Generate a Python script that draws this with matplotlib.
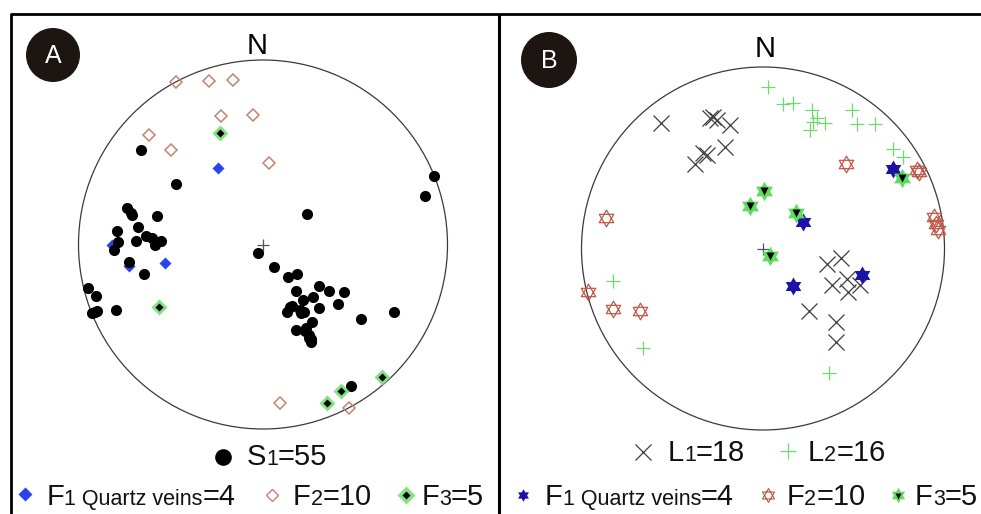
import numpy as np
import matplotlib
matplotlib.use('Agg')
import matplotlib.pyplot as plt
from matplotlib.path import Path
from matplotlib.patches import Circle
from matplotlib import transforms

plt.rcParams['font.family'] = ['Liberation Sans', 'DejaVu Sans']

# --- data: points in net coordinates (unit circle, x = east, y = north) ---
# panel A: poles
s1_a = np.array([
    (-0.661, 0.512), (-0.472, 0.328), (-0.737, 0.198), (-0.710, 0.160), (-0.575, 0.154),
    (-0.678, 0.095), (-0.791, 0.073), (-0.786, 0.014), (-0.688, 0.019), (-0.634, 0.046),
    (-0.602, 0.035), (-0.553, 0.019), (-0.585, -0.003), (-0.808, -0.030), (-0.726, -0.095),
    (-0.645, -0.160), (-0.949, -0.236), (-0.905, -0.279), (-0.927, -0.371), (-0.911, -0.366),
    (-0.797, -0.355), (-0.715, 0.171), (-0.900, -0.360), (-0.027, -0.046), (0.060, -0.122),
    (0.136, -0.176), (0.184, -0.160), (0.179, -0.252), (0.304, -0.225), (0.358, -0.252),
    (0.439, -0.257), (0.217, -0.301), (0.271, -0.285), (0.407, -0.322), (0.146, -0.339),
    (0.130, -0.366), (0.206, -0.371), (0.222, -0.366), (0.304, -0.344), (0.266, -0.420),
    (0.179, -0.463), (0.228, -0.469), (0.249, -0.491), (0.260, -0.528), (0.249, -0.507),
    (0.531, -0.404), (0.710, -0.366), (0.477, -0.767), (0.927, 0.371), (0.878, 0.263),
    (0.238, 0.165), (0.201, -0.355), (0.233, -0.453), (0.157, -0.333), (0.260, -0.512),
])
f1_a = np.array([(-0.244, 0.415), (-0.531, -0.100), (-0.818, -0.003), (-0.726, -0.117)])
f2_a = np.array([
    (-0.472, 0.881), (-0.293, 0.886), (-0.163, 0.892), (-0.228, 0.696), (-0.054, 0.702),
    (-0.618, 0.593), (-0.499, 0.512), (0.033, 0.444), (0.092, -0.859), (0.466, -0.886),
])
f3_a = np.array([(-0.233, 0.604), (-0.564, -0.339), (0.347, -0.859), (0.423, -0.794), (0.645, -0.718)])

# panel B: lineations / fold axes
l1_b = np.array([
    (-0.562, 0.691), (-0.292, 0.719), (-0.275, 0.725), (-0.253, 0.708), (-0.182, 0.680),
    (-0.209, 0.559), (-0.331, 0.526), (-0.309, 0.515), (-0.375, 0.466), (0.430, -0.052),
    (0.353, -0.085), (0.380, -0.201), (0.463, -0.168), (0.468, -0.240), (0.534, -0.201),
    (0.253, -0.344), (0.402, -0.405), (0.402, -0.515),
])
l2_b = np.array([
    (0.028, 0.890), (0.110, 0.796), (0.165, 0.802), (0.270, 0.763), (0.298, 0.719),
    (0.275, 0.697), (0.342, 0.691), (0.259, 0.653), (0.490, 0.763), (0.518, 0.686),
    (0.617, 0.686), (0.716, 0.548), (0.771, 0.504), (-0.826, -0.179), (-0.661, -0.548),
    (0.364, -0.686),
])
f1_b = np.array([(0.716, 0.438), (0.220, 0.146), (0.165, -0.207), (0.545, -0.146)])
f2_b = np.array([
    (-0.865, 0.168), (0.457, 0.466), (0.848, 0.433), (0.942, 0.174), (0.964, 0.102),
    (0.953, 0.135), (-0.964, -0.240), (-0.826, -0.333), (-0.678, -0.344), (0.860, 0.421),
])
f3_b = np.array([(-0.072, 0.234), (0.006, 0.317), (0.766, 0.388), (0.182, 0.196), (0.039, -0.041)])

W, H = 981, 514
fig = plt.figure(figsize=(W / 100, H / 100), dpi=100)

# overlay axes in pixel units for frame, labels and legends
ax0 = fig.add_axes([0, 0, 1, 1])
ax0.set_xlim(0, W)
ax0.set_ylim(H, 0)
ax0.axis('off')


def hexagram(outline=False):
    if outline:
        verts, codes = [], []
        for start in (90, 270):
            ang = np.deg2rad([start, start + 120, start + 240])
            pts = np.c_[np.cos(ang), np.sin(ang)]
            verts += list(pts) + [pts[0]]
            codes += [Path.MOVETO, Path.LINETO, Path.LINETO, Path.CLOSEPOLY]
        return Path(verts, codes)
    ang = np.deg2rad(np.arange(90, 450, 30))
    r = np.where(np.arange(12) % 2 == 0, 1.0, 1 / np.sqrt(3))
    pts = np.c_[r * np.cos(ang), r * np.sin(ang)]
    return Path(np.vstack([pts, pts[:1]]), closed=True)


STAR = hexagram()
STAR_OPEN = hexagram(outline=True)
LIM = 1.15


def make_net(cx, cy, R):
    half = R * LIM
    ax = fig.add_axes([(cx - half) / W, (H - cy - half) / H, 2 * half / W, 2 * half / H])
    ax.set_xlim(-LIM, LIM)
    ax.set_ylim(-LIM, LIM)
    ax.axis('off')
    ax.add_patch(Circle((0, 0), 1, fill=False, lw=0.9, ec='#3a3a3a'))
    ax.plot(0, 0, '+', ms=8, color='#555555', mew=0.9)
    return ax


def pts(ax, data, **kw):
    ax.plot(data[:, 0], data[:, 1], ls='none', clip_on=False, **kw)


def mixed_text(x, y, parts):
    r = fig.canvas.get_renderer()
    tr = ax0.transData
    for s, size in parts:
        t = ax0.text(x, y, s, fontsize=size, transform=tr, va='baseline', ha='left', color='#111111')
        t.draw(r)
        ex = t.get_window_extent(r)
        tr = transforms.offset_copy(t.get_transform(), x=ex.width, units='dots')


BIG, SMALL = 21, 15.5
C_BLUE_A = '#2a45e6'
C_TAN = '#c2836f'
C_GLOW = '#86e086'
C_NAVY = '#1c12a8'
C_RED = '#c05a4a'
C_GREEN = '#5ddc5d'
C_LGREEN = '#6fd86f'
C_GREY = '#3c3c3c'

# ---------------- panel A ----------------
axA = make_net(263, 244.5, 184.5)
pts(axA, f1_a, marker='D', ms=6, color=C_BLUE_A, mec='none')
pts(axA, s1_a, marker='o', ms=8, color='black', mec='none')
pts(axA, f2_a, marker='D', ms=6.5, mfc='none', mec=C_TAN, mew=1.1)
pts(axA, f3_a, marker='D', ms=8, color=C_GLOW, mec='none')
pts(axA, f3_a, marker='D', ms=3.6, color='black', mec='none')

# ---------------- panel B ----------------
axB = make_net(763, 248.5, 181.5)
pts(axB, l1_b, marker='x', ms=11, color=C_GREY, mew=0.9)
pts(axB, l2_b, marker='+', ms=10, color=C_LGREEN, mew=0.9)
pts(axB, f2_b, marker=STAR_OPEN, ms=12, mfc='none', mec=C_RED, mew=0.9)
pts(axB, f1_b, marker=STAR, ms=13, color=C_NAVY, mec='none')
pts(axB, f3_b, marker=STAR, ms=14, color=C_GREEN, mec='none')
pts(axB, f3_b, marker='v', ms=5.5, color='black', mec='none')

# ---------------- frame ----------------
ax0.plot([10, W], [14, 14], color='black', lw=2, solid_capstyle='butt')
ax0.plot([11, 11], [14, H], color='black', lw=2, solid_capstyle='butt')
ax0.plot([499, 499], [14, H], color='black', lw=2.2, solid_capstyle='butt')

# badges and north labels
for (bx, by, br, lab) in [(53, 55, 27, 'A'), (549, 60, 28, 'B')]:
    ax0.add_patch(Circle((bx, by), br, color='#1c1512', ec='none'))
    ax0.text(bx, by + 1, lab, color='white', fontsize=18, ha='center', va='center')
ax0.text(257, 54, 'N', fontsize=BIG, ha='center', va='baseline')
ax0.text(765, 57, 'N', fontsize=BIG, ha='center', va='baseline')

# ---------------- legends ----------------
# panel A
ax0.plot(222.7, 456.7, 'o', ms=12, color='black', mec='none')
mixed_text(246.5, 465, [('S', BIG), ('1', SMALL), ('=55', BIG)])
ax0.plot(25, 494, 'D', ms=7, color=C_BLUE_A, mec='none')
mixed_text(46.5, 505, [('F', BIG), ('1 Quartz veins', SMALL), ('=4', BIG)])
ax0.plot(271.7, 495, 'D', ms=6.5, mfc='none', mec=C_TAN, mew=1.0)
mixed_text(293, 505, [('F', BIG), ('2', SMALL), ('=10', BIG)])
ax0.plot(406, 495, 'D', ms=9, color=C_GLOW, mec='none')
ax0.plot(406, 495, 'D', ms=4, color='black', mec='none')
mixed_text(421.5, 505, [('F', BIG), ('3', SMALL), ('=5', BIG)])

# panel B
ax0.plot(643.3, 451.7, 'x', ms=11, color=C_GREY, mew=0.9)
mixed_text(668, 461, [('L', BIG), ('1', SMALL), ('=18', BIG)])
ax0.plot(788.3, 450.5, '+', ms=11, color=C_LGREEN, mew=0.9)
mixed_text(808, 461, [('L', BIG), ('2', SMALL), ('=16', BIG)])
ax0.plot(523.3, 495, marker=STAR, ms=9, color=C_NAVY, mec='none')
mixed_text(545, 505, [('F', BIG), ('1 Quartz veins', SMALL), ('=4', BIG)])
ax0.plot(767.7, 495, marker=STAR_OPEN, ms=10, mfc='none', mec=C_RED, mew=0.8)
mixed_text(786.5, 505, [('F', BIG), ('2', SMALL), ('=10', BIG)])
ax0.plot(898.3, 495, marker=STAR, ms=11, color=C_GREEN, mec='none')
ax0.plot(898.3, 495.5, 'v', ms=4.5, color='black', mec='none')
mixed_text(915, 505, [('F', BIG), ('3', SMALL), ('=5', BIG)])

fig.savefig('out.png', dpi=100)
